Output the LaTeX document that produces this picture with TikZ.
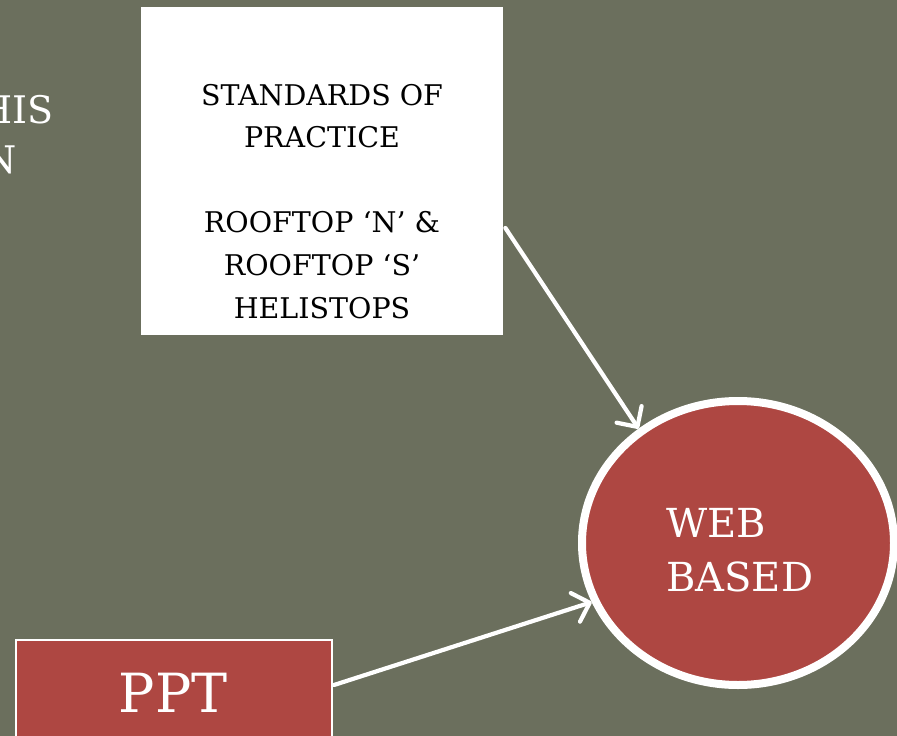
\documentclass[tikz,border=0pt]{standalone}
\usepackage{fontspec}
\setmainfont{DejaVu Serif}
\usetikzlibrary{arrows.meta,shapes.geometric}
\definecolor{bgolive}{HTML}{6B6F5D}
\definecolor{brick}{HTML}{AE4742}
\tikzset{
  conn/.style={draw=white, line width=4.2pt, line cap=round,
    -{Straight Barb[length=15pt,width=30pt,line width=4.2pt,round]}},
  lbl/.style={text=white, inner sep=0pt}
}
\begin{document}
\begin{tikzpicture}[x=1pt,y=-1pt]
\fill[bgolive] (0,0) rectangle (897,736);
\useasboundingbox (0,0) rectangle (897,736);
% left cut-off text
\node[lbl, anchor=base east, font=\fontsize{38}{46}\selectfont] (his) at (54,123) {HIS};
\node[lbl, anchor=base east, font=\fontsize{38}{46}\selectfont] (nn) at (17,173) {N};
% white box
\node[fill=white, minimum width=362pt, minimum height=328pt, inner sep=0pt, anchor=north west] (box) at (141,7) {};
\node[align=center, anchor=base, inner sep=0pt, font=\fontsize{28.5}{42.6}\selectfont] (boxtext) at (322,318)
  {STANDARDS OF\\PRACTICE\\[42.6pt]ROOFTOP ‘N’ \&\\ROOFTOP ‘S’\\HELISTOPS};
% ellipse
\node[ellipse, fill=brick, draw=white, line width=8pt, minimum width=312pt, minimum height=284pt, inner sep=0pt] (web) at (738,543) {};
\node[lbl, align=left, anchor=base west, font=\fontsize{40}{54}\selectfont] (webtext) at (666,591) {WEB\\BASED};
% PPT box
\node[fill=brick, draw=white, line width=2pt, minimum width=316pt, minimum height=150pt, inner sep=0pt, anchor=north west] (ppt) at (15,639) {};
\node[lbl, anchor=base, font=\fontsize{54}{60}\selectfont] (ppttext) at (173,712) {PPT};
% connectors
\draw[conn] ([xshift=2pt,yshift=-221pt]box.north east) -- (web.131);
\draw[conn] ([xshift=1pt,yshift=-46pt]ppt.north east) -- (web.202);
\end{tikzpicture}
\end{document}
